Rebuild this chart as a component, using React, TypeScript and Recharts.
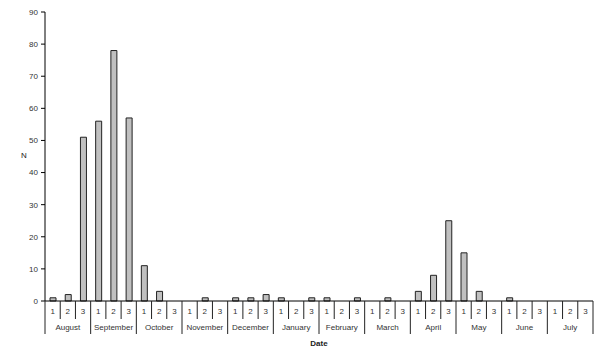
import { BarChart, Bar, XAxis, YAxis } from 'recharts';

// monthly dekads (1st, 2nd, 3rd ten days), August through July
const months = [
  'August', 'September', 'October', 'November', 'December', 'January',
  'February', 'March', 'April', 'May', 'June', 'July',
];
const dekads = ['1', '2', '3'];
const counts = [
  1, 2, 51,
  56, 78, 57,
  11, 3, 0,
  0, 1, 0,
  1, 1, 2,
  1, 0, 1,
  1, 0, 1,
  0, 1, 0,
  3, 8, 25,
  15, 3, 0,
  1, 0, 0,
  0, 0, 0,
];
const yTicks = [0, 10, 20, 30, 40, 50, 60, 70, 80, 90];

const data = counts.map((n, i) => ({
  key: `${months[Math.floor(i / 3)]}-${dekads[i % 3]}`,
  dekad: dekads[i % 3],
  month: months[Math.floor(i / 3)],
  n,
}));

const WIDTH = 603;
const HEIGHT = 361;
const MARGIN = { top: 12, right: 10, bottom: 10, left: 0 };
const Y_WIDTH = 45;
const BAND = (WIDTH - MARGIN.left - MARGIN.right - Y_WIDTH) / data.length;

const font = { fontFamily: '"Liberation Sans", Arial, sans-serif', fontSize: 8 };

const DateTick = (props: any) => {
  const { x, y, payload } = props;
  const i = payload.index;
  const row = data[i];
  const left = x - BAND / 2;
  const right = x + BAND / 2;
  const monthStart = i % 3 === 0;
  return (
    <g>
      <line x1={left} y1={y} x2={left} y2={y + (monthStart ? 33 : 18)} stroke="#222" strokeWidth={1} />
      {i === data.length - 1 && (
        <line x1={right} y1={y} x2={right} y2={y + 33} stroke="#222" strokeWidth={1} />
      )}
      <text x={x} y={y + 13} textAnchor="middle" fill="#333" style={font}>
        {row.dekad}
      </text>
      {i % 3 === 1 && (
        <text x={x} y={y + 29} textAnchor="middle" fill="#333" style={font}>
          {row.month}
        </text>
      )}
    </g>
  );
};

const App = () => {
  return (
    <div style={{ position: 'absolute', left: 0, top: 0, background: '#fff' }}>
      <BarChart width={WIDTH} height={HEIGHT} data={data} margin={MARGIN} barCategoryGap={0}>
        <XAxis
          dataKey="key"
          interval={0}
          height={50}
          tickLine={false}
          tickSize={0}
          tickMargin={0}
          axisLine={{ stroke: '#000' }}
          tick={<DateTick />}
          label={(p: any) => {
            const vb = p.viewBox;
            return (
              <text
                x={vb.x + vb.width / 2}
                y={346}
                textAnchor="middle"
                fill="#222"
                style={{ ...font, fontWeight: 'bold' }}
              >
                Date
              </text>
            );
          }}
        />
        <YAxis
          width={Y_WIDTH}
          domain={[0, 90]}
          ticks={yTicks}
          interval={0}
          tickSize={4}
          tickMargin={3}
          tickLine={{ stroke: '#000' }}
          axisLine={{ stroke: '#000' }}
          tick={{ fill: '#333', ...font }}
          label={() => (
            <text x={24} y={158} textAnchor="middle" fill="#222" style={font}>
              N
            </text>
          )}
        />
        <Bar dataKey="n" barSize={6} fill="#c0c0c0" stroke="#222" strokeWidth={1} isAnimationActive={false} />
      </BarChart>
    </div>
  );
};

export default App;
